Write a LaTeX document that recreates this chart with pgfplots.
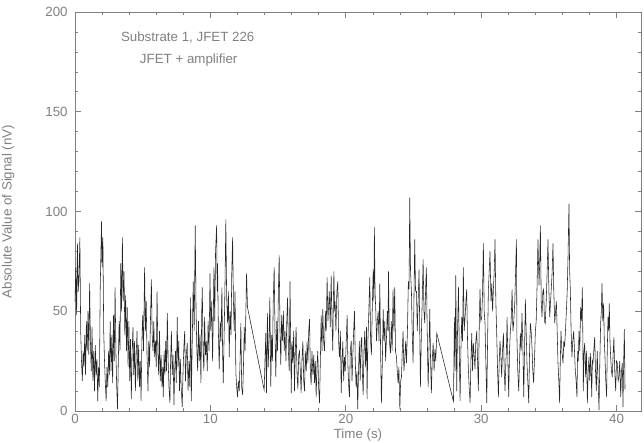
\documentclass[border=0pt]{standalone}
\usepackage{pgfplots}
\pgfplotsset{compat=1.18}
\usepackage{fontspec}
\setmainfont{Liberation Sans}
\definecolor{axgray}{gray}{0.5}
\begin{document}
\begin{tikzpicture}
\useasboundingbox (-56.25pt,-24pt) rectangle (426.75pt,308.25pt);
\begin{axis}[
  at={(0,0)}, anchor=south west,
  scale only axis, width=424.5pt, height=299.25pt,
  xmin=0, xmax=41.8, ymin=0, ymax=200,
  xtick={0,10,20,30,40}, ytick={0,50,100,150,200},
  minor x tick num=4, minor y tick num=4,
  tick align=inside,
  major tick length=4.5pt, minor tick length=2.3pt,
  axis line style={axgray, line width=0.5pt},
  every tick/.style={axgray, line width=0.5pt},
  tick label style={text=axgray, font=\fontsize{10}{12}\selectfont},
  /pgf/number format/assume math mode=true,
  xticklabel style={inner ysep=1pt, yshift=-1.5pt},
  yticklabel style={xshift=-2pt},
  xlabel={Time (s)}, ylabel={Absolute Value of Signal (nV)},
  label style={text=axgray, font=\fontsize{10}{12}\selectfont},
  xlabel style={at={(axis description cs:0.5,0)}, anchor=north, yshift=-12.5pt, inner ysep=0.5pt},
  ylabel style={at={(axis description cs:0,0.5)}, anchor=south, yshift=42pt},
  clip=false,
]
\addplot[black!85, line width=0.42pt] coordinates {
(0.0,55) (0.06,72) (0.12,48) (0.18,84) (0.24,60) (0.30,68) (0.36,87) (0.42,40) (0.48,25) (0.54,15)
(0.60,30) (0.66,22) (0.72,38) (0.78,18) (0.84,45) (0.90,30) (0.96,50) (1.02,28) (1.08,64) (1.14,35)
(1.20,20) (1.26,42) (1.32,15) (1.38,30) (1.44,10) (1.50,33) (1.56,18) (1.62,26) (1.68,5) (1.74,22)
(1.80,12) (1.86,60) (1.92,82) (1.96,95) (2.00,72) (2.06,87) (2.12,40) (2.18,25) (2.24,14) (2.30,5)
(2.36,22) (2.42,12) (2.48,30) (2.54,18) (2.60,45) (2.66,20) (2.72,38) (2.78,14) (2.84,48) (2.90,25)
(2.96,62) (3.02,30) (3.08,12) (3.14,1) (3.20,25) (3.26,45) (3.32,30) (3.38,74) (3.44,50) (3.50,87)
(3.56,55) (3.62,70) (3.68,38) (3.74,58) (3.80,30) (3.86,52) (3.92,22) (3.98,45) (4.04,15) (4.10,36)
(4.16,6) (4.22,30) (4.28,42) (4.34,18) (4.40,35) (4.46,10) (4.52,28) (4.58,40) (4.64,15) (4.70,33)
(4.76,12) (4.82,25) (4.88,5) (4.94,35) (5.00,48) (5.06,30) (5.14,72)
(5.20,40) (5.26,55) (5.32,28) (5.39,10) (5.45,35) (5.51,22) (5.58,48) (5.64,66) (5.70,38) (5.76,30)
(5.82,45) (5.88,27) (5.94,35) (6.00,22) (6.06,60) (6.12,30) (6.18,18) (6.24,40) (6.30,15) (6.36,28)
(6.42,12) (6.48,22) (6.52,7) (6.58,30) (6.64,18) (6.70,35) (6.76,20) (6.82,49) (6.88,25) (6.94,12)
(7.01,4) (7.06,25) (7.12,40) (7.18,18) (7.24,28) (7.31,3) (7.36,20) (7.42,30) (7.48,14) (7.55,47)
(7.60,22) (7.66,35) (7.72,10) (7.78,26) (7.84,12) (7.92,2) (7.98,20) (8.04,32) (8.10,40) (8.16,15)
(8.22,28) (8.29,34) (8.35,10) (8.42,25) (8.48,12) (8.54,57) (8.59,5) (8.66,35) (8.73,65) (8.80,40)
(8.88,93) (8.94,50) (9.00,30) (9.06,20) (9.12,45) (9.18,25) (9.24,38) (9.30,14) (9.36,50) (9.40,62)
(9.46,30) (9.52,20) (9.57,47) (9.64,28) (9.70,35) (9.77,20) (9.83,45) (9.90,30) (9.97,69) (10.03,40)
(10.10,55) (10.16,25) (10.22,50) (10.26,72) (10.32,45) (10.38,80) (10.46,93)
(10.50,60) (10.53,74) (10.59,40) (10.65,21) (10.72,45) (10.78,35) (10.85,62) (10.90,30) (10.95,14) (11.02,40)
(11.08,65) (11.14,96) (11.20,57) (11.27,44) (11.33,60) (11.39,27) (11.45,50) (11.52,38) (11.58,70) (11.64,87)
(11.70,55) (11.76,40) (11.82,60) (11.88,19) (11.94,12) (12.00,7) (12.06,15) (12.13,10) (12.19,25) (12.25,44)
(12.31,12) (12.38,8) (12.44,22) (12.50,42) (12.56,30) (12.62,50) (12.67,69) (12.74,52)
(13.97,10.5) (14.03,25) (14.09,39) (14.14,9) (14.21,49) (14.27,22) (14.33,35) (14.39,57) (14.46,12) (14.52,38)
(14.58,25) (14.64,55) (14.71,72) (14.77,40) (14.83,17) (14.90,45) (14.96,30) (15.02,60) (15.08,78) (15.14,40)
(15.20,23) (15.26,48) (15.33,35) (15.39,50) (15.45,30) (15.51,40) (15.58,25) (15.64,45) (15.70,57) (15.76,30)
(15.82,20) (15.88,65) (15.94,28) (15.97,9) (16.03,35) (16.09,24) (16.15,40) (16.21,10) (16.27,30) (16.33,42)
(16.40,18) (16.46,11) (16.52,28) (16.58,30) (16.64,20) (16.70,9) (16.76,25) (16.83,35) (16.89,15) (16.95,10)
(17.01,30) (17.08,20) (17.14,35) (17.20,24) (17.26,40) (17.32,46) (17.38,20) (17.44,13) (17.50,30) (17.57,18)
(17.63,28) (17.69,14) (17.75,25) (17.81,7) (17.87,22) (17.93,30) (17.99,12) (18.06,4) (18.12,25) (18.18,48)
(18.24,30) (18.30,51) (18.36,35) (18.43,30) (18.49,50) (18.55,40) (18.62,67) (18.68,45) (18.72,51) (18.78,60)
(18.85,42) (18.92,68) (18.98,45) (19.04,30) (19.08,55) (19.12,70) (19.17,50) (19.21,55) (19.27,40) (19.34,60)
(19.41,65) (19.47,35) (19.53,27) (19.60,40) (19.66,9) (19.72,25) (19.78,35) (19.84,15) (19.90,27) (19.96,20)
(20.03,35) (20.10,48) (20.16,22) (20.22,12) (20.27,7) (20.33,30) (20.40,35) (20.46,15) (20.52,28) (20.58,40)
(20.64,50) (20.70,25) (20.76,12) (20.82,20) (20.88,1) (20.94,20) (21.00,35) (21.06,15) (21.13,35)
(21.18,37) (21.22,20) (21.28,8) (21.34,30) (21.40,40) (21.46,22) (21.53,42) (21.57,6) (21.63,35) (21.70,50)
(21.77,67) (21.83,35) (21.89,28) (21.95,50) (22.02,71) (22.07,55) (22.11,92) (22.16,60) (22.21,51) (22.27,35)
(22.33,45) (22.39,50) (22.45,35) (22.51,64) (22.57,30) (22.63,4) (22.70,25) (22.76,51) (22.82,35) (22.88,45)
(22.94,25) (23.00,36) (23.06,50) (23.12,40) (23.15,70) (23.22,35) (23.30,29) (23.36,45) (23.42,30) (23.49,61)
(23.55,40) (23.61,62) (23.67,30) (23.74,27) (23.80,20) (23.86,14) (23.92,22) (23.99,1) (24.05,15) (24.11,17)
(24.17,30) (24.23,40) (24.29,20) (24.36,27) (24.42,35) (24.48,24) (24.55,40) (24.62,65) (24.67,61) (24.72,107)
(24.78,70) (24.85,59) (24.90,40) (24.97,24) (25.03,55) (25.09,86) (25.15,60) (25.22,60) (25.28,40) (25.34,55)
(25.41,71) (25.46,40) (25.51,12) (25.57,35) (25.64,55) (25.71,76) (25.77,50) (25.83,44) (25.89,60) (25.95,72)
(26.01,40) (26.08,12) (26.14,30) (26.20,51) (26.26,25) (26.32,9) (26.38,25) (26.45,34)
(26.52,20) (26.58,31) (26.64,25) (26.72,39) (27.95,4.7) (28.02,47) (28.07,20) (28.12,68) (28.19,10) (28.25,40)
(28.32,62) (28.38,30) (28.44,5) (28.50,30) (28.56,47) (28.62,35) (28.68,72) (28.74,40) (28.81,47) (28.87,55)
(28.93,61) (28.99,35) (29.05,21) (29.11,12) (29.18,4) (29.24,25) (29.30,39) (29.36,20) (29.42,34) (29.48,28)
(29.54,21) (29.60,35) (29.67,40) (29.73,25) (29.79,10) (29.85,40) (29.91,61) (29.97,45) (30.04,47) (30.10,60)
(30.16,84) (30.22,50) (30.28,44) (30.34,25) (30.41,4) (30.47,35) (30.53,61) (30.59,70) (30.65,80) (30.72,55)
(30.78,64) (30.84,50) (30.90,61) (30.96,70) (31.02,86) (31.08,55) (31.15,37) (31.21,20) (31.27,7) (31.33,25)
(31.39,35) (31.45,28) (31.51,17) (31.57,30) (31.64,39) (31.70,20) (31.76,10)
(31.82,25) (31.86,30) (31.91,47) (31.97,25) (32.03,7) (32.09,30) (32.15,40) (32.21,45) (32.28,61) (32.34,40)
(32.40,44) (32.48,55) (32.54,70) (32.60,86) (32.64,36) (32.70,20) (32.77,10) (32.83,25) (32.89,39) (32.95,30)
(33.01,49) (33.07,35) (33.14,7) (33.20,30) (33.26,56) (33.32,40) (33.38,24) (33.44,15) (33.51,4) (33.57,30)
(33.63,44) (33.69,40) (33.75,32) (33.81,20) (33.87,14) (33.93,25) (34.00,40) (34.06,45) (34.12,61) (34.19,86)
(34.27,63) (34.32,75) (34.37,93) (34.43,55) (34.49,47) (34.55,60) (34.61,61) (34.67,45) (34.73,44) (34.80,55)
(34.87,70) (34.93,86) (35.00,60) (35.06,47) (35.12,55) (35.18,62) (35.24,70) (35.30,84) (35.36,60) (35.43,44)
(35.49,50) (35.55,55) (35.61,40) (35.67,24) (35.73,15) (35.79,4) (35.84,25) (35.89,40) (35.96,30) (36.04,24)
(36.10,35) (36.16,32) (36.22,40) (36.29,50) (36.35,60) (36.41,77) (36.48,104) (36.53,70) (36.58,61) (36.64,40)
(36.70,27) (36.76,35) (36.83,40) (36.89,30) (36.95,20) (37.01,15) (37.07,7)
(37.12,30) (37.17,25) (37.22,40) (37.28,30) (37.34,52) (37.40,45) (37.47,62) (37.54,10) (37.59,30) (37.64,34)
(37.68,25) (37.71,17) (37.77,30) (37.84,4) (37.90,20) (37.96,27) (38.02,15) (38.08,29) (38.12,20) (38.16,7)
(38.21,25) (38.25,24) (38.31,30) (38.38,37) (38.44,20) (38.50,10) (38.57,30) (38.63,15) (38.70,0.5) (38.76,25)
(38.82,44) (38.87,50) (38.92,64) (38.98,45) (39.04,54) (39.09,35) (39.14,27) (39.20,15) (39.26,7) (39.31,30)
(39.36,47) (39.41,40) (39.46,54) (39.51,35) (39.56,27) (39.62,20) (39.68,17) (39.74,28) (39.80,37) (39.86,20)
(39.93,10) (39.99,25) (40.05,24) (40.11,15) (40.17,17) (40.23,25) (40.30,7) (40.36,20) (40.42,24) (40.47,2)
(40.52,25) (40.57,41) (40.62,11)
};
\node[anchor=west, text=axgray, font=\fontsize{10}{12}\selectfont] at (axis cs:3.05,187) {Substrate 1, JFET 226};
\node[anchor=west, text=axgray, font=\fontsize{10}{12}\selectfont] at (axis cs:4.45,176) {JFET + amplifier};
\end{axis}
\end{tikzpicture}
\end{document}
